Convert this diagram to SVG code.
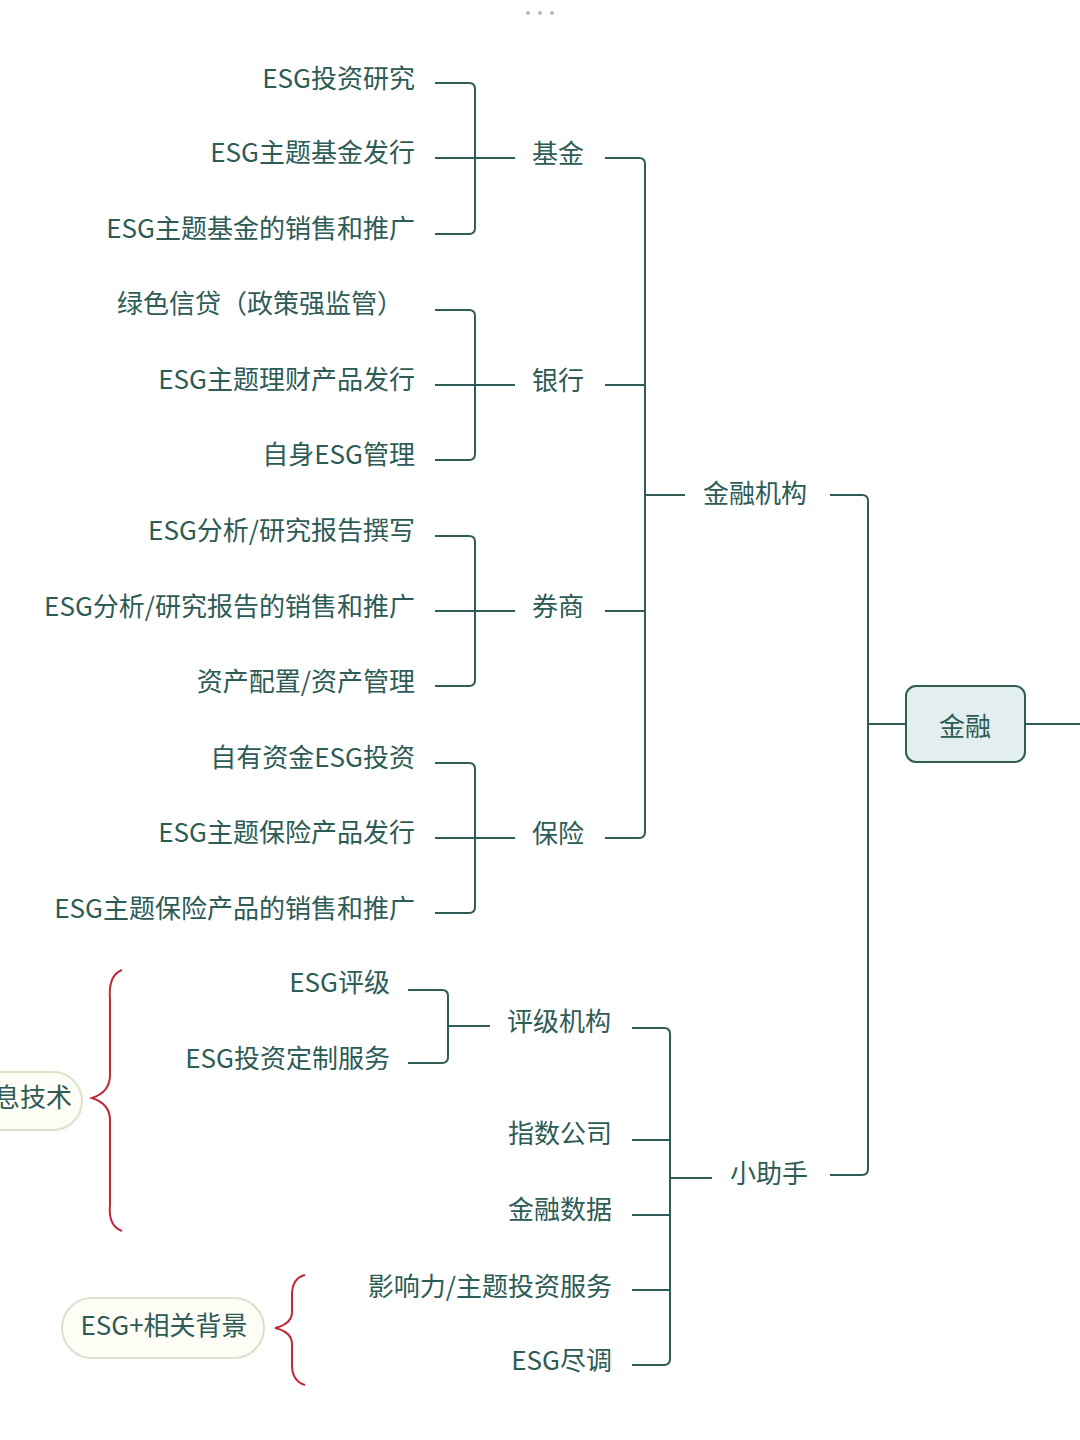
<svg xmlns="http://www.w3.org/2000/svg" width="1080" height="1440" viewBox="0 0 1080 1440">
<style>
text{font-family:"Noto Sans CJK SC","Noto Sans",sans-serif;font-size:26px;fill:#2d5b55}
.r{text-anchor:end}
.c{fill:none;stroke:#2e5c56;stroke-width:2}
.b{fill:none;stroke:#c0283a;stroke-width:2}
.p{fill:#fdfdf6;stroke:#d8e3c8;stroke-width:2}
</style>
<rect width="1080" height="1440" fill="#fff"/>
<g fill="#bbb"><circle cx="528" cy="13" r="2"/><circle cx="540" cy="13" r="2"/><circle cx="552" cy="13" r="2"/></g>
<g id="connectors" class="c">
<path class="c" d="M435 83H469Q475 83 475 89V228Q475 234 469 234H435M435 158H515"/>
<path class="c" d="M435 310H469Q475 310 475 316V454Q475 460 469 460H435M435 385H515"/>
<path class="c" d="M435 536H469Q475 536 475 542V680Q475 686 469 686H435M435 611H515"/>
<path class="c" d="M435 763H469Q475 763 475 769V907Q475 913 469 913H435M435 838H515"/>
<path class="c" d="M605 158H639Q645 158 645 164V832Q645 838 639 838H605M605 385H645M605 611H645M645 495H685"/>
<path class="c" d="M830 495H862Q868 495 868 501V1169Q868 1175 862 1175H830M868 724H906M1025 724H1080"/>
<path class="c" d="M408 990H442Q448 990 448 996V1057Q448 1063 442 1063H408M448 1026H490"/>
<path class="c" d="M632 1028H664Q670 1028 670 1034V1359Q670 1365 664 1365H632M632 1140H670M632 1215H670M632 1290H670M670 1178H712"/>
</g>
<g id="brace1"><path class="b" d="M122 970Q108 975 110 1000V1075Q110 1092 92 1098Q110 1104 110 1120V1205Q108 1226 122 1231"/></g>
<g id="brace2"><path class="b" d="M305 1275Q292 1278 292 1295V1312Q292 1324 275 1328Q292 1332 292 1344V1365Q292 1381 305 1385"/></g>
<g id="n-jinrong"><rect x="906" y="686" width="119" height="76" rx="10" fill="#e3eeef" stroke="#2e5c56" stroke-width="2"/><text x="965" y="736" text-anchor="middle" font-size="34">金融</text></g>
<g id="n-xinxi"><rect class="p" x="-110" y="1072" width="192" height="58" rx="29"/><text x="-6" y="1107">息技术</text></g>
<g id="n-esgbg"><rect class="p" x="62" y="1298" width="202" height="60" rx="30"/><text x="164" y="1335" text-anchor="middle" font-size="27">ESG+相关背景</text></g>
<g id="n-jgjg"><text x="703" y="503">金融机构</text></g>
<g id="n-xzs"><text x="730" y="1183">小助手</text></g>
<g id="n-jj"><text x="532" y="163">基金</text></g>
<g id="n-yh"><text x="532" y="390">银行</text></g>
<g id="n-qs"><text x="532" y="616">券商</text></g>
<g id="n-bx"><text x="532" y="843">保险</text></g>
<g id="n-pjjg"><text x="507" y="1031">评级机构</text></g>
<g id="leaves">
<text class="r" x="415" y="88">ESG投资研究</text>
<text class="r" x="415" y="162">ESG主题基金发行</text>
<text class="r" x="415" y="238">ESG主题基金的销售和推广</text>
<text class="r" x="403" y="313">绿色信贷（政策强监管）</text>
<text class="r" x="415" y="389">ESG主题理财产品发行</text>
<text class="r" x="415" y="464">自身ESG管理</text>
<text class="r" x="415" y="540">ESG分析/研究报告撰写</text>
<text class="r" x="415" y="616">ESG分析/研究报告的销售和推广</text>
<text class="r" x="415" y="691">资产配置/资产管理</text>
<text class="r" x="415" y="767">自有资金ESG投资</text>
<text class="r" x="415" y="842">ESG主题保险产品发行</text>
<text class="r" x="415" y="918">ESG主题保险产品的销售和推广</text>
<text class="r" x="390" y="992">ESG评级</text>
<text class="r" x="390" y="1068">ESG投资定制服务</text>
<text class="r" x="612" y="1143">指数公司</text>
<text class="r" x="612" y="1219">金融数据</text>
<text class="r" x="612" y="1296">影响力/主题投资服务</text>
<text class="r" x="612" y="1370">ESG尽调</text>
</g>
</svg>
